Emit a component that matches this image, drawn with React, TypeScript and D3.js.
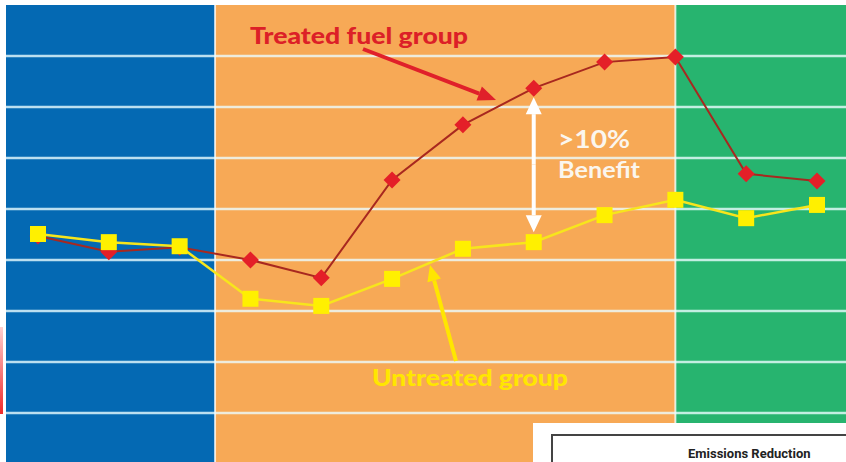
import React, { useEffect, useRef } from "react";
import * as d3 from "d3";

// test runs, left to right
const tests = ["T1", "T2", "T3", "T4", "T5", "T6", "T7", "T8", "T9", "T10", "T11", "T12"];
// relative fuel economy (gridline units)
const treated = [4.47, 4.16, 4.25, 4.0, 3.65, 5.57, 6.65, 7.37, 7.88, 7.98, 5.69, 5.55];
const untreated = [4.51, 4.35, 4.27, 3.24, 3.1, 3.63, 4.22, 4.35, 4.88, 5.18, 4.82, 5.08];
const gridTicks = [1, 2, 3, 4, 5, 6, 7, 8];
// phase bands: baseline ends between T3/T4, treatment ends at T10
const phaseColors = ["#0469b3", "#f7a956", "#27b46f"];

const W = 846;
const H = 462;

const App: React.FC = () => {
  const svgRef = useRef<SVGSVGElement>(null);

  useEffect(() => {
    if (!svgRef.current) return;
    const svg = d3.select(svgRef.current);
    svg.selectAll("*").remove();

    const plot = { left: 6, top: 5, right: W, bottom: 470 };

    const x = d3.scalePoint<string>().domain(tests).range([38, 817]);
    const y = d3.scaleLinear().domain([0, 9]).range([464, 5]);

    const defs = svg.append("defs");
    const grad = defs
      .append("linearGradient")
      .attr("id", "redEdge")
      .attr("x1", 0)
      .attr("x2", 0)
      .attr("y1", 0)
      .attr("y2", 1);
    grad.append("stop").attr("offset", "0%").attr("stop-color", "#ffd0d0");
    grad.append("stop").attr("offset", "100%").attr("stop-color", "#f02a2a");

    // Phase bands
    const edges = [
      plot.left,
      ((x("T3") as number) + (x("T4") as number)) / 2,
      x("T10") as number,
      plot.right,
    ];
    svg
      .selectAll(".band")
      .data(phaseColors)
      .enter()
      .append("rect")
      .attr("x", (_, i) => edges[i])
      .attr("y", plot.top)
      .attr("width", (_, i) => edges[i + 1] - edges[i])
      .attr("height", plot.bottom - plot.top)
      .style("fill", (d) => d);

    // band separators
    svg
      .selectAll(".sep")
      .data([edges[1], edges[2]])
      .enter()
      .append("line")
      .attr("x1", (d) => d)
      .attr("x2", (d) => d)
      .attr("y1", plot.top)
      .attr("y2", plot.bottom)
      .style("stroke", "rgba(255,255,255,0.75)")
      .style("stroke-width", 2);

    // Grid lines
    svg
      .selectAll(".grid-line")
      .data(gridTicks)
      .enter()
      .append("line")
      .attr("x1", plot.left)
      .attr("x2", plot.right)
      .attr("y1", (d) => y(d))
      .attr("y2", (d) => y(d))
      .style("stroke", "rgba(235,252,255,0.8)")
      .style("stroke-width", 2.5);

    // red sliver on left edge
    svg
      .append("rect")
      .attr("x", 0)
      .attr("y", 327)
      .attr("width", 3)
      .attr("height", 87)
      .style("fill", "url(#redEdge)");

    // Treated line + diamonds
    const line = (vals: number[]) =>
      d3
        .line<number>()
        .x((_, i) => x(tests[i]) as number)
        .y((d) => y(d))(vals);

    svg
      .append("path")
      .attr("d", line(treated))
      .style("fill", "none")
      .style("stroke", "#a8281f")
      .style("stroke-width", 2);

    const dia = 8.5;
    svg
      .selectAll(".diamond")
      .data(treated)
      .enter()
      .append("rect")
      .attr("x", -dia / Math.SQRT2)
      .attr("y", -dia / Math.SQRT2)
      .attr("width", (dia * 2) / Math.SQRT2)
      .attr("height", (dia * 2) / Math.SQRT2)
      .attr("transform", (d, i) => `translate(${x(tests[i])},${y(d)}) rotate(45)`)
      .style("fill", "#e41f28");

    // Untreated line + squares
    svg
      .append("path")
      .attr("d", line(untreated))
      .style("fill", "none")
      .style("stroke", "#f7e51c")
      .style("stroke-width", 2.5);

    const sq = 16;
    svg
      .selectAll(".square")
      .data(untreated)
      .enter()
      .append("rect")
      .attr("x", (_, i) => (x(tests[i]) as number) - sq / 2)
      .attr("y", (d) => y(d) - sq / 2)
      .attr("width", sq)
      .attr("height", sq)
      .style("fill", "#fff000");

    // arrow helper
    const arrow = (
      x1: number,
      y1: number,
      x2: number,
      y2: number,
      color: string,
      width: number,
      headLen: number,
      headW: number
    ) => {
      const a = Math.atan2(y2 - y1, x2 - x1);
      const bx = x2 - headLen * Math.cos(a);
      const by = y2 - headLen * Math.sin(a);
      svg
        .append("line")
        .attr("x1", x1)
        .attr("y1", y1)
        .attr("x2", bx)
        .attr("y2", by)
        .style("stroke", color)
        .style("stroke-width", width);
      const px = -Math.sin(a) * headW / 2;
      const py = Math.cos(a) * headW / 2;
      svg
        .append("polygon")
        .attr("points", `${x2},${y2} ${bx + px},${by + py} ${bx - px},${by - py}`)
        .style("fill", color);
    };

    // Treated label + arrow
    svg
      .append("text")
      .attr("x", 250)
      .attr("y", 44)
      .attr("textLength", 218)
      .attr("lengthAdjust", "spacingAndGlyphs")
      .style("font-family", "Lato, 'Open Sans', sans-serif")
      .style("font-weight", 900)
      .style("font-size", "22px")
      .style("fill", "#dc2027")
      .text("Treated fuel group");
    arrow(363, 49, 496, 100, "#e0202a", 4, 18, 15);

    // Untreated label + arrow
    svg
      .append("text")
      .attr("x", 372)
      .attr("y", 386)
      .attr("textLength", 196)
      .attr("lengthAdjust", "spacingAndGlyphs")
      .style("font-family", "Lato, 'Open Sans', sans-serif")
      .style("font-weight", 900)
      .style("font-size", "23px")
      .style("fill", "#ffe600")
      .text("Untreated group");
    arrow(456, 361, 430, 265, "#ffe600", 4, 16, 14);

    // Benefit double arrow at T8
    const bx = x("T8") as number;
    const yTop = y(treated[7]) + 9;
    const yBot = y(untreated[7]) - 10;
    arrow(bx, (yTop + yBot) / 2, bx, yTop, "#ffffff", 4, 17, 16);
    arrow(bx, (yTop + yBot) / 2, bx, yBot, "#ffffff", 4, 17, 16);

    svg
      .append("text")
      .attr("x", 558)
      .attr("y", 148)
      .attr("textLength", 72)
      .attr("lengthAdjust", "spacingAndGlyphs")
      .style("font-family", "Lato, 'Open Sans', sans-serif")
      .style("font-weight", 700)
      .style("font-size", "24px")
      .style("fill", "#fbf6ee")
      .text(">10%");
    svg
      .append("text")
      .attr("x", 558)
      .attr("y", 178)
      .attr("textLength", 82)
      .attr("lengthAdjust", "spacingAndGlyphs")
      .style("font-family", "Lato, 'Open Sans', sans-serif")
      .style("font-weight", 700)
      .style("font-size", "22px")
      .style("fill", "#fbf6ee")
      .text("Benefit");

    // overlapping slide in bottom right
    svg
      .append("rect")
      .attr("x", 533)
      .attr("y", 423)
      .attr("width", W - 533)
      .attr("height", H - 423)
      .style("fill", "#ffffff");
    svg
      .append("rect")
      .attr("x", 552)
      .attr("y", 435)
      .attr("width", 320)
      .attr("height", 60)
      .style("fill", "none")
      .style("stroke", "#444444")
      .style("stroke-width", 2);
    svg
      .append("text")
      .attr("x", 688)
      .attr("y", 458)
      .style("font-family", "Roboto, 'Liberation Sans', sans-serif")
      .style("font-weight", 700)
      .style("font-size", "13px")
      .style("fill", "#222222")
      .text("Emissions Reduction");
  }, []);

  return (
    <div style={{ position: "fixed", left: 0, top: 0, width: W, height: H, background: "#fff" }}>
      <svg ref={svgRef} width={W} height={H} style={{ display: "block" }} />
    </div>
  );
};

export default App;
